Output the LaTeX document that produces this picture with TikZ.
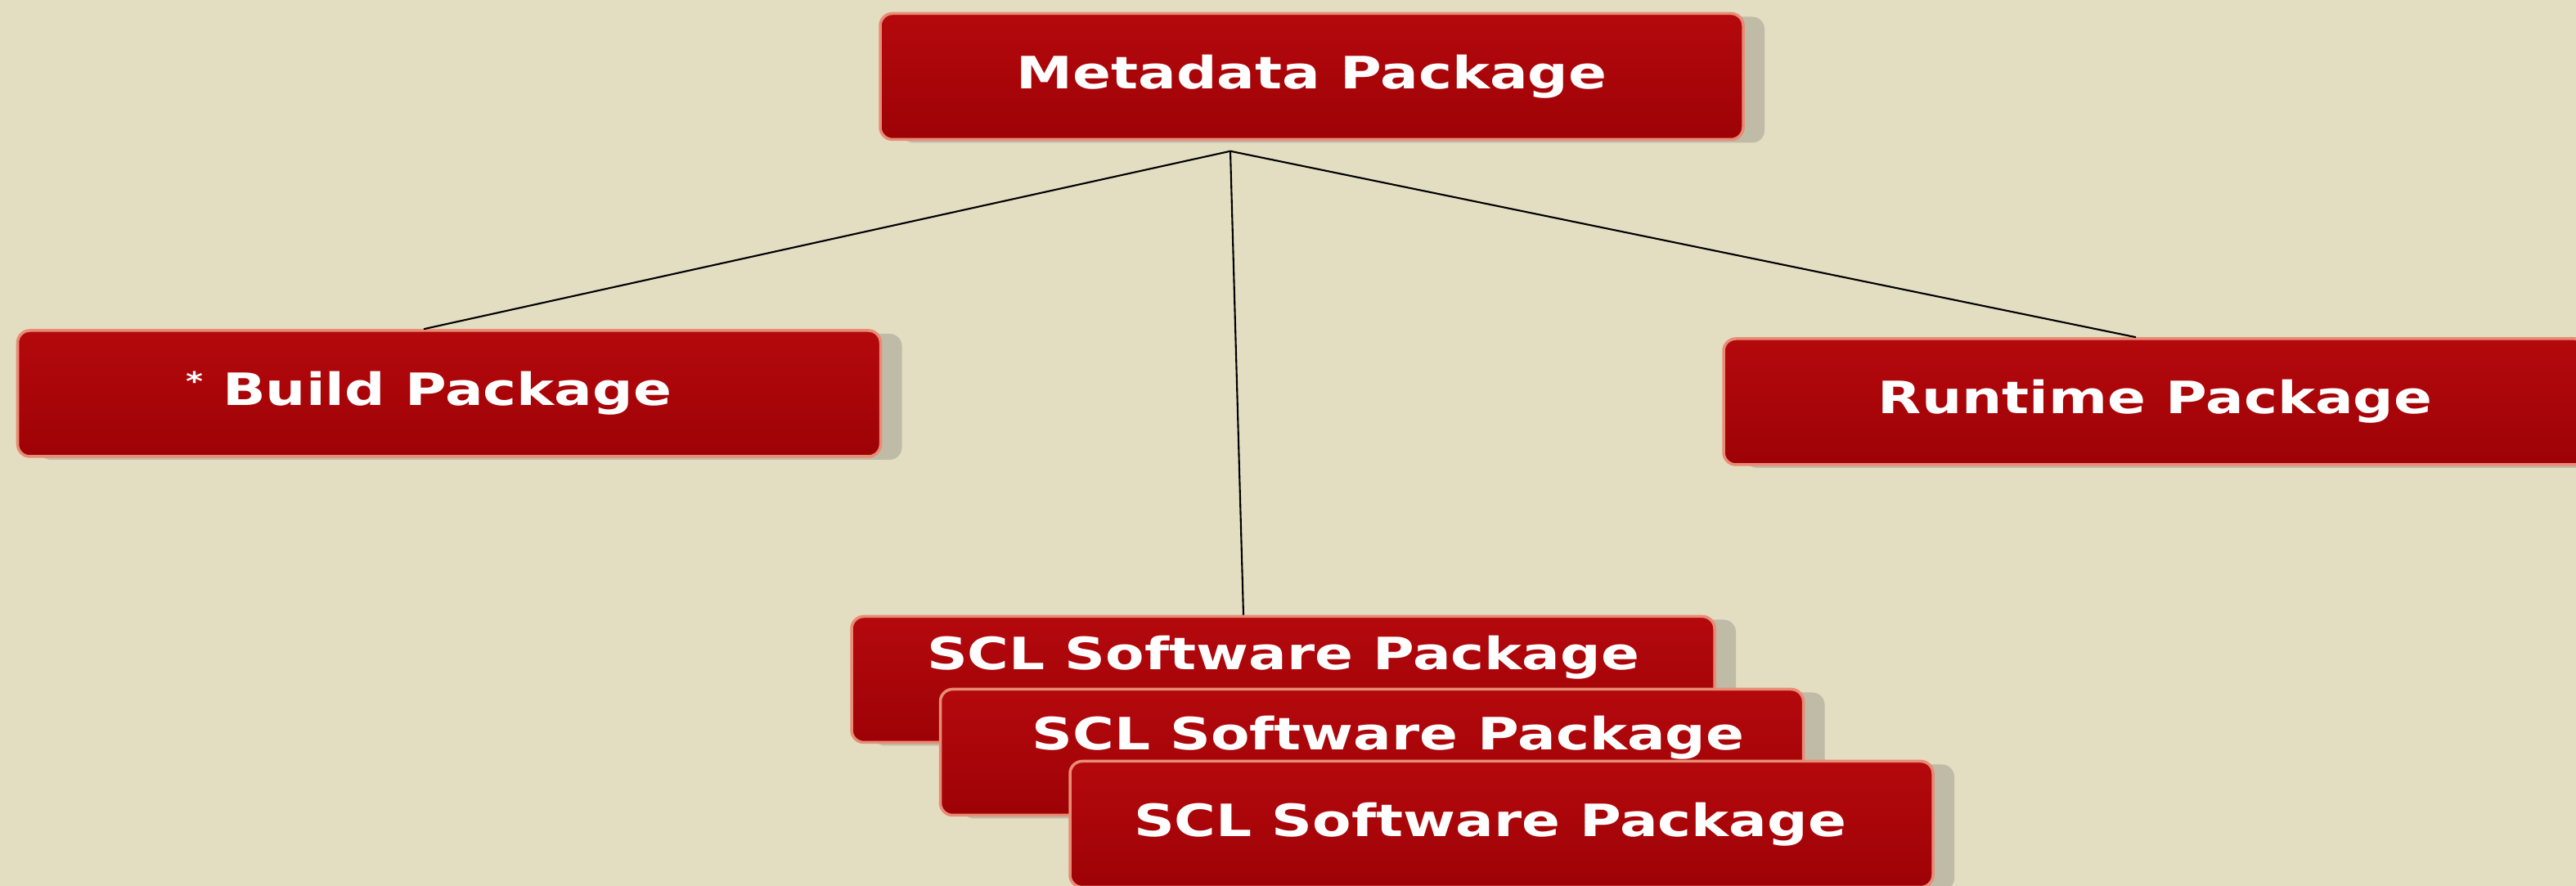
\documentclass[tikz,border=0pt]{standalone}
\usepackage{fontspec}
\newfontfamily\pkgfont{DejaVu Sans}[FakeStretch=1.27]
\usetikzlibrary{shadows}
\definecolor{paper}{RGB}{227,221,194}
\definecolor{pkgtop}{RGB}{180,9,13}
\definecolor{pkgbot}{RGB}{158,2,6}
\definecolor{pkgedge}{RGB}{232,140,118}
\definecolor{pkgshadow}{RGB}{192,187,167}

\begin{document}
\begin{tikzpicture}[
  pkg/.style={rectangle,rounded corners=0.15cm,draw=pkgedge,line width=1pt,
    top color=pkgtop,bottom color=pkgbot,
    minimum width=10.55cm,minimum height=1.54cm,
    text=white,font=\pkgfont\bfseries\fontsize{15.5}{18}\selectfont,
    drop shadow={shadow xshift=0.26cm,shadow yshift=-0.04cm,fill=pkgshadow,opacity=1}},
  link/.style={-,line width=0.6pt,black}]
  \fill[paper] (0,0) rectangle (31.49,10.83);
  \useasboundingbox (0,0) rectangle (31.49,10.83);
  \node[pkg] (meta) at (16.035,9.895) {Metadata Package};
  \node[pkg] (build) at (5.49,6.02) {\raisebox{0.6ex}{\small *} Build Package\hspace*{0.5cm}};
  \node[pkg] (runtime) at (26.345,5.92) {Runtime Package};
  % stacked software packages
  \node[pkg,text depth=0.66cm] (scl1) at (15.685,2.525) {SCL Software Package};
  \node[pkg,text depth=0.48cm] (scl2) at (16.77,1.635) {\hspace*{0.4cm}SCL Software Package};
  \node[pkg] (scl3) at (18.355,0.755) {SCL Software Package\hspace*{0.28cm}};
  \coordinate (hub) at ([xshift=-0.995cm,yshift=-0.125cm]meta.south);
  \path [link](hub) edge ([xshift=-0.31cm]build.north);
  \path [link](hub) edge ([xshift=-0.235cm]runtime.north);
  \path [link](hub) edge ([xshift=-0.485cm]scl1.north);
\end{tikzpicture}
\end{document}
